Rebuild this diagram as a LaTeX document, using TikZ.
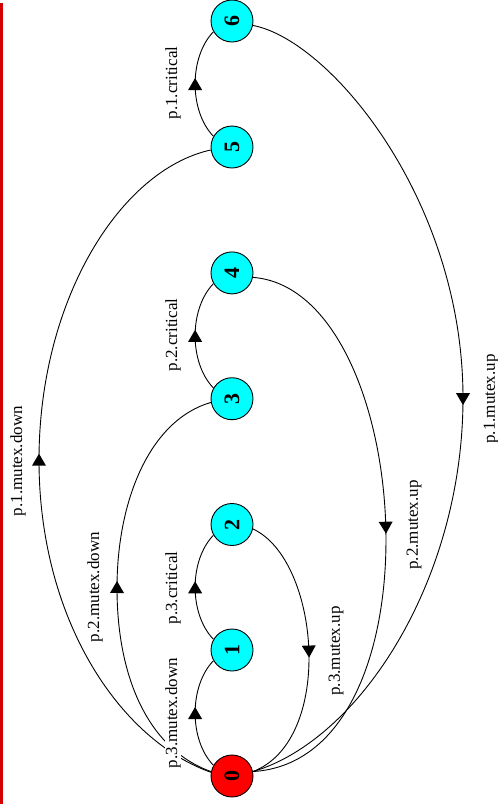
\documentclass[tikz,border=0pt]{standalone}
\usepackage{fontspec}
\setmainfont{Liberation Serif}
\usetikzlibrary{decorations.markings}
\definecolor{redline}{RGB}{212,0,0}
\definecolor{nodecyan}{RGB}{0,255,255}
\definecolor{nodered}{RGB}{255,0,0}
\tikzset{
  st/.style={circle, draw=black, line width=0.9pt, minimum size=42pt, inner sep=0pt, fill=nodecyan,
             font=\fontsize{22}{22}\bfseries\selectfont},
  st0/.style={st, fill=nodered},
  lbl/.style={rotate=90, inner sep=0.5pt, fill=white, font=\fontsize{17}{17}\selectfont},
  edge/.style={line width=0.9pt, postaction={decorate},
    decoration={markings, mark=at position #1 with {\fill (6pt,0pt) -- (-6pt,7pt) -- (-6pt,-7pt) -- cycle;}}},
  edge/.default=0.5
}
\begin{document}
\begin{tikzpicture}[x=1pt,y=-1pt]
\useasboundingbox (0,0) rectangle (498,804);
\fill[redline] (0,3) rectangle (3,804);

\coordinate (c6) at (463,398);
\coordinate (c5) at (39,460);
\coordinate (c3) at (117,588);

\node[st0] (n0) at (232,776) {\rotatebox{90}{0}};
\node[st] (n1) at (232,650) {\rotatebox{90}{1}};
\node[st] (n2) at (232,524.5) {\rotatebox{90}{2}};
\node[st] (n3) at (232,398.7) {\rotatebox{90}{3}};
\node[st] (n4) at (232,272.9) {\rotatebox{90}{4}};
\node[st] (n5) at (232,147) {\rotatebox{90}{5}};
\node[st] (n6) at (232,21) {\rotatebox{90}{6}};

\draw[edge] (n0.150) .. controls (189,740) and (189,686) .. (n1.210);
\draw[edge] (n1.150) .. controls (189,614) and (189,560.5) .. (n2.210);
\draw[edge] (n3.150) .. controls (189,362.7) and (189,308.9) .. (n4.210);
\draw[edge] (n5.150) .. controls (189,111) and (189,57) .. (n6.210);

\draw[edge] (n2.-12) .. controls (320,560) and (335,740) .. (n0.12);
\draw[edge] (n4.-12) .. controls (415,290) and (445,760) .. (n0.12);
\draw[edge] (n6.-12) .. controls (330,40) and (463,200) .. (c6) .. controls (463,580) and (360,740) .. (n0.12);

\draw[edge] (n0.168) .. controls (150,750) and (117,680) .. (c3) .. controls (117,500) and (150,420) .. (n3.190);
\draw[edge] (n0.170) .. controls (120,740) and (39,620) .. (c5) .. controls (39,300) and (120,170) .. (n5.188);

\node[lbl] (l01) at (173,713) {p.3.mutex.down};
\node[lbl] (l12) at (173,588) {p.3.critical};
\node[lbl] (l20) at (336,651) {p.3.mutex.up};
\node[lbl] (l03) at (95,587) {p.2.mutex.down};
\node[lbl] (l34) at (173,335) {p.2.critical};
\node[lbl] (l40) at (414,525) {p.2.mutex.up};
\node[lbl] (l05) at (18,461) {p.1.mutex.down};
\node[lbl] (l56) at (173,83) {p.1.critical};
\node[lbl] (l60) at (491,399) {p.1.mutex.up};
\end{tikzpicture}
\end{document}
